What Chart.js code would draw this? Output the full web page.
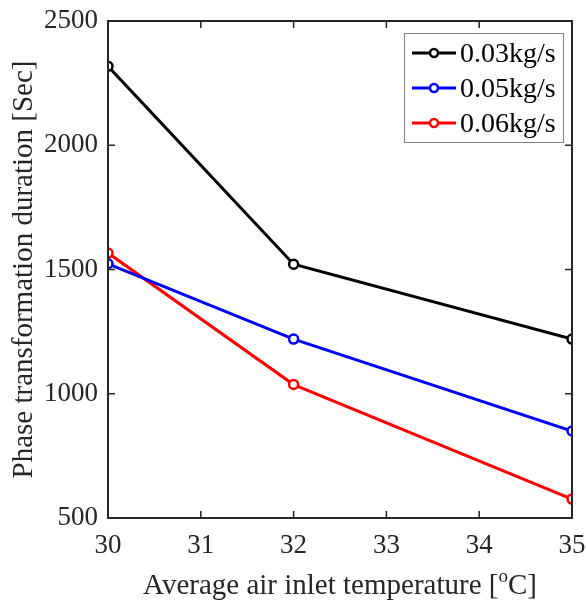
<!DOCTYPE html>
<html>
<head>
<meta charset="utf-8">
<script src="https://cdn.jsdelivr.net/npm/chart.js@4"></script>
<style>
  html, body { margin: 0; padding: 0; background: #fff; }
  #wrap { width: 586px; height: 604px; }
</style>
</head>
<body>
<div id="wrap"><canvas id="chart" width="586" height="604"></canvas></div>
<script>
const temps = [30, 32, 35];
const flow003 = [2318, 1521, 1220];
const flow005 = [1523, 1220, 850];
const flow006 = [1566, 1037, 576];
const seriesNames = ['0.03kg/s', '0.05kg/s', '0.06kg/s'];
const seriesColors = ['#000000', '#0000ff', '#ff0000'];
const xTicks = [30, 31, 32, 33, 34, 35];
const yTicks = [500, 1000, 1500, 2000, 2500];

const FONT = "'Liberation Serif', 'Times New Roman', serif";
const AXIS = '#262626';

function toPoints(ys) {
    return temps.map((t, i) => ({ x: t, y: ys[i] }));
}

const series = [flow003, flow005, flow006].map((ys, i) => ({
    label: seriesNames[i],
    data: toPoints(ys),
    borderColor: seriesColors[i],
    backgroundColor: seriesColors[i],
    borderWidth: 3,
    pointRadius: 4.5,
    pointBorderWidth: 2.5,
    pointBackgroundColor: '#ffffff',
    pointBorderColor: seriesColors[i],
    tension: 0
}));

// box, inward ticks, axis titles and legend, MATLAB style
const matlabLook = {
    id: 'matlabLook',
    afterDatasetsDraw(c) {
        const ctx = c.ctx;
        const a = c.chartArea;
        const xs = c.scales.x, ys = c.scales.y;
        ctx.save();
        ctx.strokeStyle = AXIS;
        ctx.lineWidth = 2;
        ctx.strokeRect(a.left, a.top, a.right - a.left, a.bottom - a.top);
        ctx.lineWidth = 1.5;
        ctx.beginPath();
        xTicks.forEach(v => {
            const px = xs.getPixelForValue(v);
            ctx.moveTo(px, a.bottom); ctx.lineTo(px, a.bottom - 7);
            ctx.moveTo(px, a.top); ctx.lineTo(px, a.top + 7);
        });
        yTicks.forEach(v => {
            const py = ys.getPixelForValue(v);
            ctx.moveTo(a.left, py); ctx.lineTo(a.left + 7, py);
            ctx.moveTo(a.right, py); ctx.lineTo(a.right - 7, py);
        });
        ctx.stroke();

        // x title with superscript o
        ctx.fillStyle = AXIS;
        ctx.textBaseline = 'alphabetic';
        const big = '29px ' + FONT, small = '19px ' + FONT;
        const p1 = 'Average air inlet temperature [';
        const p3 = 'C]';
        ctx.font = big;
        const w1 = ctx.measureText(p1).width;
        const w3 = ctx.measureText(p3).width;
        ctx.font = small;
        const w2 = ctx.measureText('o').width;
        const total = w1 + w2 + w3;
        const x0 = (a.left + a.right) / 2 - total / 2;
        const base = 594;
        ctx.textAlign = 'left';
        ctx.font = big;
        ctx.fillText(p1, x0, base);
        ctx.font = small;
        ctx.fillText('o', x0 + w1, base - 12);
        ctx.font = big;
        ctx.fillText(p3, x0 + w1 + w2, base);

        // y title
        ctx.save();
        ctx.translate(32, (a.top + a.bottom) / 2);
        ctx.rotate(-Math.PI / 2);
        ctx.textAlign = 'center';
        ctx.fillText('Phase transformation duration [Sec]', 0, 0);
        ctx.restore();

        // legend box
        const lx = 404, ly = 33, lw = 159, lh = 109;
        ctx.fillStyle = '#ffffff';
        ctx.fillRect(lx, ly, lw, lh);
        ctx.strokeStyle = '#7f7f7f';
        ctx.lineWidth = 1;
        ctx.strokeRect(lx + 0.5, ly + 0.5, lw, lh);
        ctx.font = '28px ' + FONT;
        ctx.textBaseline = 'middle';
        c.data.datasets.forEach((ds, i) => {
            const yy = 53 + i * 35;
            ctx.strokeStyle = ds.borderColor;
            ctx.lineWidth = 3;
            ctx.beginPath();
            ctx.moveTo(412, yy); ctx.lineTo(456, yy);
            ctx.stroke();
            ctx.beginPath();
            ctx.arc(434, yy, 4, 0, Math.PI * 2);
            ctx.fillStyle = '#ffffff';
            ctx.fill();
            ctx.lineWidth = 2.5;
            ctx.stroke();
            ctx.fillStyle = '#000000';
            ctx.textAlign = 'left';
            ctx.fillText(ds.label, 460, yy + 2);
        });
        ctx.restore();
    }
};

new Chart(document.querySelector('#chart').getContext('2d'), {
    type: 'line',
    data: { datasets: series },
    options: {
        responsive: false,
        animation: false,
        layout: { padding: { left: 0, right: 14, top: 21, bottom: 0 } },
        plugins: { legend: { display: false }, tooltip: { enabled: false } },
        scales: {
            x: {
                type: 'linear',
                min: 30, max: 35,
                afterBuildTicks: s => { s.ticks = xTicks.map(v => ({ value: v })); },
                afterFit: s => { s.height = 86; s.paddingLeft = 0; s.paddingRight = 0; },
                grid: { display: false, drawTicks: false },
                border: { display: false },
                ticks: { padding: 12, color: AXIS, font: { family: FONT, size: 27 }, callback: v => String(v) }
            },
            y: {
                min: 500, max: 2500,
                afterBuildTicks: s => { s.ticks = yTicks.map(v => ({ value: v })); },
                afterFit: s => { s.width = 108; s.paddingTop = 0; s.paddingBottom = 0; },
                grid: { display: false, drawTicks: false },
                border: { display: false },
                ticks: { padding: 10, color: AXIS, font: { family: FONT, size: 27 }, callback: v => String(v) }
            }
        }
    },
    plugins: [matlabLook]
});
</script>
</body>
</html>
